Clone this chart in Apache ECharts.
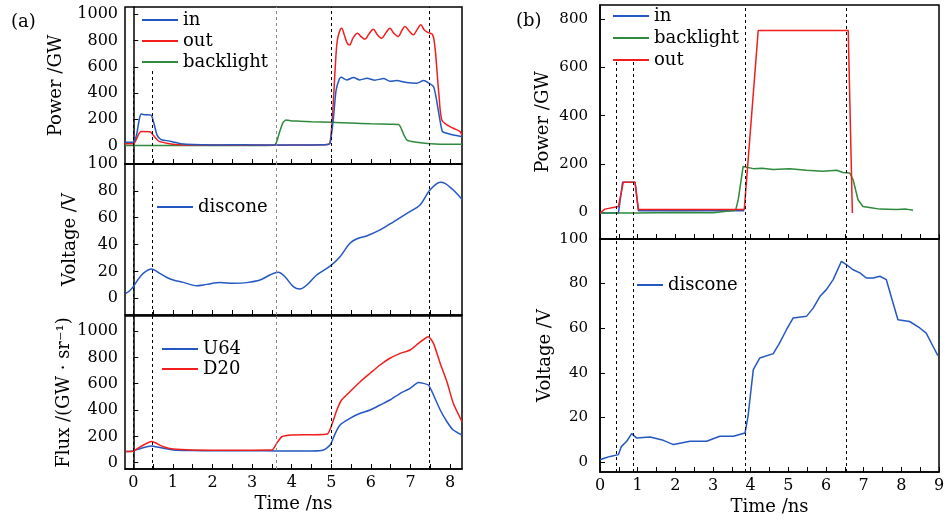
<!DOCTYPE html>
<html>
<head>
<meta charset="utf-8">
<script src="https://cdn.jsdelivr.net/npm/echarts@6/dist/echarts.min.js"></script>
<style>
  html, body { margin: 0; padding: 0; background: #fff; }
  #chart { width: 949px; height: 523px; }
</style>
</head>
<body>
<div id="chart"></div>
<script>
// ---- data: [time (ns), value] ----
// panel (a), power
const aPowerIn = [[-0.21,25],[0,25],[0.08,80],[0.15,200],[0.2,240],[0.3,235],[0.45,232],[0.52,170],[0.6,80],[0.7,45],[0.85,38],[1.0,28],[1.2,15],[1.5,8],[2,5],[2.5,6],[3,5],[3.5,4],[4,5],[4.5,5],[4.9,8],[4.97,20],[5.05,200],[5.12,420],[5.2,505],[5.25,520],[5.39,500],[5.56,518],[5.72,500],[5.9,512],[6.1,498],[6.32,510],[6.48,490],[6.65,495],[6.9,480],[7.16,475],[7.33,495],[7.45,478],[7.58,450],[7.65,360],[7.7,270],[7.77,150],[7.81,105],[7.92,94],[8.08,80],[8.3,68]]
const aPowerOut = [[-0.21,15],[0,15],[0.08,50],[0.15,95],[0.21,107],[0.42,105],[0.5,80],[0.6,45],[0.67,30],[0.85,18],[1.0,10],[1.3,5],[2,4],[2.5,5],[3,4],[3.6,3],[4,4],[4.5,5],[4.9,8],[4.97,25],[5.05,330],[5.1,600],[5.15,800],[5.22,880],[5.26,893],[5.33,840],[5.4,780],[5.46,766],[5.55,820],[5.66,855],[5.75,830],[5.85,810],[5.95,850],[6.06,886],[6.16,845],[6.27,817],[6.38,860],[6.48,893],[6.58,855],[6.69,830],[6.78,875],[6.86,906],[6.97,870],[7.07,843],[7.17,885],[7.26,919],[7.35,880],[7.45,860],[7.56,843],[7.62,740],[7.66,600],[7.72,380],[7.79,195],[7.92,157],[8.08,132],[8.25,107],[8.3,80]]
const aPowerBack = [[-0.21,0],[1,0],[2,1],[3,0],[3.55,2],[3.62,30],[3.7,110],[3.78,175],[3.86,195],[4.0,188],[4.2,186],[4.5,182],[5.0,177],[5.5,172],[6.0,166],[6.5,162],[6.7,160],[6.78,120],[6.85,70],[6.92,40],[7.1,28],[7.5,15],[8.0,10],[8.3,10]]
// panel (a), voltage
const aDiscone = [[-0.19,3.7],[-0.1,5.5],[0,8.7],[0.12,14],[0.25,18.6],[0.46,21.8],[0.67,18.6],[0.85,15.5],[1.01,13.6],[1.26,11.9],[1.6,9.4],[1.85,10.4],[2.19,11.7],[2.53,11.2],[2.86,11.7],[3.2,13.6],[3.45,17.4],[3.66,19.4],[3.83,16.1],[4.04,8.7],[4.21,6.9],[4.38,9.9],[4.63,17.4],[4.97,24],[5.22,31],[5.47,41],[5.68,44.7],[5.89,46.4],[6.23,50.9],[6.57,57],[6.91,63.3],[7.24,69.5],[7.49,80.6],[7.75,86.4],[7.87,85.6],[8.08,80.6],[8.3,73.7]]
// panel (a), flux
const aU64 = [[-0.19,84],[0,89],[0.2,110],[0.46,127],[0.76,109],[1.01,96],[1.5,92],[2,91],[3,91],[3.6,89],[4,89],[4.5,89],[4.8,96],[4.97,134],[5.1,223],[5.22,286],[5.47,337],[5.73,375],[5.98,400],[6.23,438],[6.48,476],[6.74,527],[6.99,565],[7.2,608],[7.45,590],[7.58,514],[7.75,400],[7.92,311],[8.08,248],[8.3,210]]
const aD20 = [[-0.19,84],[0,89],[0.2,125],[0.46,160],[0.76,121],[1.01,104],[1.5,96],[2,95],[3,95],[3.5,96],[3.62,147],[3.75,197],[4,210],[4.5,212],[4.9,218],[5.01,286],[5.14,400],[5.26,476],[5.47,539],[5.73,615],[5.98,679],[6.23,742],[6.48,793],[6.74,830],[6.99,856],[7.2,906],[7.45,957],[7.58,906],[7.75,754],[7.92,615],[8.08,451],[8.3,311]]
// panel (b), power
const bPowerIn = [[0,-4],[0.49,-4],[0.6,124],[0.93,124],[1.02,5],[3.83,5]]
const bPowerBack = [[0,-4],[1,-4],[2,-2],[3,-3],[3.6,7],[3.67,51],[3.8,189],[3.85,193],[4.07,180],[4.3,182],[4.6,176],[5.04,180],[5.48,173],[5.92,169],[6.1,171],[6.28,173],[6.45,164],[6.63,162],[6.72,134],[6.85,51],[6.98,23],[7.2,18],[7.43,12],[7.87,10],[8.13,12],[8.31,7]]
const bPowerOut = [[0,-4],[0.13,12],[0.49,23],[0.62,124],[0.93,124],[1.02,10],[3.83,10],[4.2,753],[6.59,753],[6.7,-4]]
// panel (b), voltage
const bDiscone = [[0,1],[0.13,1.8],[0.27,2.5],[0.49,3.3],[0.57,7],[0.71,9.3],[0.84,12.7],[0.97,10.8],[1.33,11.2],[1.68,9.7],[1.95,7.8],[2.39,9.3],[2.83,9.3],[3.18,11.5],[3.54,11.5],[3.85,13],[3.93,20.5],[4.07,41.4],[4.24,46.6],[4.6,48.6],[4.77,53.4],[4.95,59.3],[5.13,64.6],[5.48,65.3],[5.66,69],[5.84,74.3],[6.01,77.3],[6.19,81.8],[6.41,90],[6.54,88.5],[6.72,86.2],[6.9,84.8],[7.07,82.5],[7.25,82.5],[7.43,83.3],[7.6,81.8],[7.78,71.3],[7.91,63.8],[8.22,63],[8.49,60.1],[8.66,57.8],[8.84,51.9],[8.97,47.7]]

// dashed markers (time positions)
const aMarkTimes = [0, 0.47, 3.6, 4.99, 7.48]
const bMarkTimes = [0.43, 0.87, 3.85, 6.53]

// tick labels
const aTimeLabels = [0, 1, 2, 3, 4, 5, 6, 7, 8]
const bTimeLabels = [0, 1, 2, 3, 4, 5, 6, 7, 8, 9]
const powerLabelsA = [0, 200, 400, 600, 800, 1000]
const powerLabelsB = [0, 200, 400, 600, 800]
const voltLabels = [0, 20, 40, 60, 80, 100]
const fluxLabels = [0, 200, 400, 600, 800, 1000]

const FONT = 'DejaVu Serif'
const BLUE = '#2358c2'
const RED = '#f21d1d'
const GREEN = '#2e8a3c'

const chart = echarts.init(document.getElementById('chart'))

function halfSteps (max) {
  const out = []
  for (let i = 0; i <= max * 2; i++) out.push(i / 2)
  return out
}

function xAxisDef (grid, min, max, labels, showName) {
  return {
    type: 'value', gridIndex: grid, min: min, max: max,
    axisLine: { onZero: false, lineStyle: { color: '#000', width: 1.5 } },
    axisTick: { inside: true, length: 5, customValues: halfSteps(max), lineStyle: { color: '#000' } },
    axisLabel: showName
      ? { customValues: labels, color: '#000', fontFamily: FONT, fontSize: 16, margin: 6, formatter: v => String(v) }
      : { show: false },
    splitLine: { show: false },
    name: showName ? 'Time /ns' : '',
    nameLocation: 'middle',
    nameGap: 26,
    nameTextStyle: { color: '#000', fontFamily: FONT, fontSize: 18 }
  }
}

function yAxisDef (grid, min, max, labels, name, gap, fs, margin) {
  return {
    type: 'value', gridIndex: grid, min: min, max: max,
    axisLine: { lineStyle: { color: '#000', width: 1.5 } },
    axisTick: { inside: true, length: 5, customValues: labels, lineStyle: { color: '#000' } },
    axisLabel: { customValues: labels, color: '#000', fontFamily: FONT, fontSize: fs, margin: margin, formatter: v => String(v) },
    splitLine: { show: false },
    name: name,
    nameLocation: 'middle',
    nameGap: gap,
    nameTextStyle: { color: '#000', fontFamily: FONT, fontSize: 18 }
  }
}

// vertical dashed lines as markLine segments
function marks (times, ranges, greyIndex) {
  return {
    silent: true,
    symbol: ['none', 'none'],
    label: { show: false },
    animation: false,
    data: times.map((t, i) => [
      { coord: [t, ranges[i][0]], lineStyle: { color: i === greyIndex ? '#888' : '#000', type: [3, 3], width: 1 } },
      { coord: [t, ranges[i][1]] }
    ])
  }
}

function line (name, data, color, xi, mark, smooth) {
  const s = {
    name: name, type: 'line', data: data,
    xAxisIndex: xi, yAxisIndex: xi,
    symbol: 'none', showSymbol: false,
    smooth: smooth || false,
    lineStyle: { color: color, width: 1.5 },
    itemStyle: { color: color },
    animation: false
  }
  if (mark) s.markLine = mark
  return s
}

const legendText = { color: '#000', fontFamily: FONT, fontSize: 18, lineHeight: 18 }
function legendDef (names, left, top, w, gap) {
  return {
    data: names, orient: 'vertical', left: left, top: top, padding: 0,
    icon: 'rect', itemWidth: w, itemHeight: 2, itemGap: gap,
    textStyle: legendText, selectedMode: false
  }
}

const option = {
  backgroundColor: '#fff',
  title: [
    { text: '(a)', left: 6, top: 8, textStyle: { fontFamily: FONT, fontSize: 18, fontWeight: 'normal', color: '#000' } },
    { text: '(b)', left: 511, top: 7, textStyle: { fontFamily: FONT, fontSize: 18, fontWeight: 'normal', color: '#000' } }
  ],
  grid: [
    { left: 125, top: 7, width: 337, height: 157, show: true, borderColor: '#000', borderWidth: 1.5 },
    { left: 125, top: 164, width: 337, height: 151, show: true, borderColor: '#000', borderWidth: 1.5 },
    { left: 125, top: 316, width: 337, height: 153, show: true, borderColor: '#000', borderWidth: 1.5 },
    { left: 600, top: 5, width: 339, height: 234, show: true, borderColor: '#000', borderWidth: 1.5 },
    { left: 600, top: 239, width: 339, height: 233, show: true, borderColor: '#000', borderWidth: 1.5 }
  ],
  xAxis: [
    xAxisDef(0, -0.21, 8.3, aTimeLabels, false),
    xAxisDef(1, -0.21, 8.3, aTimeLabels, false),
    xAxisDef(2, -0.21, 8.3, aTimeLabels, true),
    xAxisDef(3, 0, 9, bTimeLabels, false),
    xAxisDef(4, 0, 9, bTimeLabels, true)
  ],
  yAxis: [
    yAxisDef(0, -140, 1055, powerLabelsA, 'Power /GW', 60, 16, 7),
    yAxisDef(1, -12.4, 100, voltLabels, 'Voltage /V', 46, 16, 7),
    yAxisDef(2, -48, 1114, fluxLabels, 'Flux /(GW · sr⁻¹)', 52, 16, 7),
    yAxisDef(3, -112, 859, powerLabelsB, 'Power /GW', 48, 15, 12),
    yAxisDef(4, -4.5, 100, voltLabels, 'Voltage /V', 46, 15, 12)
  ],
  legend: [
    legendDef(['in', 'out', 'backlight'], 142, 11, 36, 3),
    legendDef(['discone'], 157, 198, 36, 3),
    legendDef(['U64', 'D20'], 162, 340, 36, 2),
    legendDef(['in ', 'backlight ', 'out '], 613, 7, 36, 4),
    legendDef(['discone '], 637, 276, 26, 3)
  ],
  series: [
    line('backlight', aPowerBack, GREEN, 0,
      marks(aMarkTimes, [[-140, 590], [-140, 590], [-140, 1055], [-140, 1055], [-140, 1055]], 2), 0.2),
    line('out', aPowerOut, RED, 0, null, 0.35),
    line('in', aPowerIn, BLUE, 0, null, 0.2),
    line('discone', aDiscone, BLUE, 1,
      marks(aMarkTimes, [[-12.4, 87], [-12.4, 87], [-12.4, 100], [-12.4, 100], [-12.4, 100]], 2), 0.3),
    line('U64', aU64, BLUE, 2,
      marks(aMarkTimes, [[-48, 1114], [-48, 1114], [-48, 1114], [-48, 1114], [-48, 1114]], 2), 0.2),
    line('D20', aD20, RED, 2, null, 0.2),
    line('in ', bPowerIn, BLUE, 3,
      marks(bMarkTimes, [[-112, 625], [-112, 625], [-112, 859], [-112, 859]], -1)),
    line('backlight ', bPowerBack, GREEN, 3),
    line('out ', bPowerOut, RED, 3),
    line('discone ', bDiscone, BLUE, 4,
      marks(bMarkTimes, [[-4.5, 100], [-4.5, 100], [-4.5, 100], [-4.5, 100]], -1))
  ]
}

chart.setOption(option)
</script>
</body>
</html>
